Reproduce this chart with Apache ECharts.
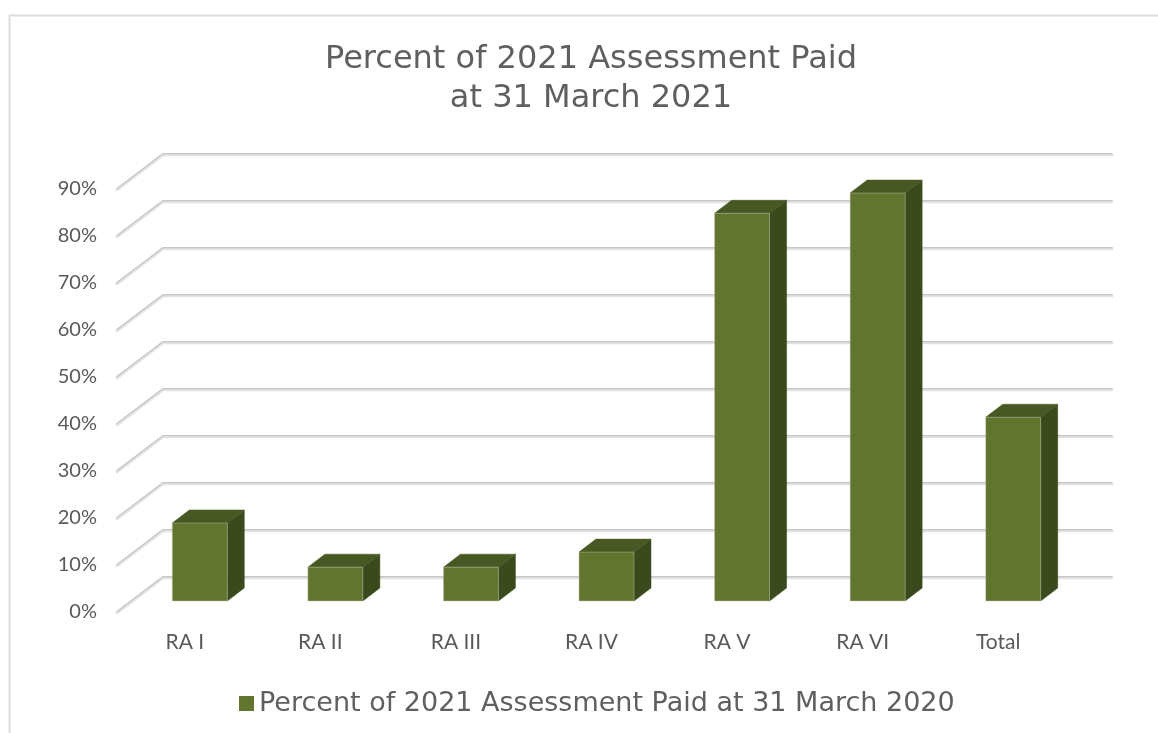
<!DOCTYPE html>
<html>
<head>
<meta charset="utf-8">
<style>html,body{margin:0;padding:0;background:#fff}#c{width:1158px;height:733px}</style>
<script src="https://cdn.jsdelivr.net/npm/echarts@6/dist/echarts.min.js"></script>
</head>
<body>
<div id="c"></div>
<script>
const categories = ['RA I','RA II','RA III','RA IV','RA V','RA VI','Total'];
const paid = [16.6, 7.2, 7.2, 10.4, 82.5, 86.8, 39.1];
const gridValues = [0,10,20,30,40,50,60,70,80,90];
const seriesName = 'Percent of 2021 Assessment Paid at 31 March 2020';
const titleText = 'Percent of 2021 Assessment Paid\nat 31 March 2021';

const wallDX = 46, wallDY = 35;      // floor depth of the 3-D plot
const barDX = 15, barDY = 11;        // front face of bar, set into the floor
const depthX = 17, depthY = 13;      // depth of a bar
const barWidth = 55;
const FRONT = '#61752f', TOP = '#475823', SIDE = '#3b4a1c', EDGE = 'rgba(190,195,180,0.45)';

function poly(points, fill, stroke) {
  return { type:'polygon', shape:{points}, style:{fill, stroke: stroke || fill, lineWidth: stroke ? 1 : 0.5} };
}

const chart = echarts.init(document.getElementById('c'), null, {renderer:'canvas'});
chart.setOption({
  animation:false,
  backgroundColor:'#ffffff',
  title:{
    text:titleText, left:586, top:35, textAlign:'center',
    textStyle:{fontFamily:'DejaVu Sans', fontSize:32, fontWeight:'normal', color:'#5f5f5f', lineHeight:39}
  },
  legend:{
    data:[{name:seriesName, icon:'rect'}], left:234, top:685, itemWidth:15, itemHeight:15, itemGap:7,
    textStyle:{fontFamily:'DejaVu Sans', fontSize:27, color:'#5f5f5f', padding:0},
    selectedMode:false
  },
  grid:{left:117, right:92, top:189, bottom:121},
  xAxis:{
    type:'category', data:categories,
    axisLine:{show:false}, axisTick:{show:false}, splitLine:{show:false},
    axisLabel:{margin:20, fontFamily:'Lato', fontSize:21, color:'#595959'}
  },
  yAxis:{
    type:'value', min:0, max:90, interval:10,
    axisLine:{show:false}, axisTick:{show:false}, splitLine:{show:false},
    axisLabel:{margin:20, fontFamily:'Lato', fontSize:20, color:'#595959', formatter:'{value}%'}
  },
  graphic:[
    {type:'line', shape:{x1:9,y1:15.5,x2:1158,y2:15.5}, style:{stroke:'#dedede',lineWidth:2}},
    {type:'line', shape:{x1:9.5,y1:15,x2:9.5,y2:733}, style:{stroke:'#dedede',lineWidth:2}}
  ],
  series:[
    {
      type:'custom', name:'grid', silent:true, z:1,
      data:gridValues.map(v=>[0,v]),
      renderItem(params, api){
        const y = api.coord([0, api.value(1)])[1];
        const cs = params.coordSys;
        const pts = [[cs.x, y],[cs.x+wallDX, y-wallDY],[cs.x+cs.width+wallDX, y-wallDY]];
        return {type:'group', children:[
          {type:'polyline', shape:{points:pts.map(p=>[p[0],p[1]+0.8])}, style:{fill:'none',stroke:'#e2e2e2',lineWidth:3,lineCap:'round'}},
          {type:'polyline', shape:{points:pts.map(p=>[p[0],p[1]-0.4])}, style:{fill:'none',stroke:'#c6c6c6',lineWidth:1.3,lineCap:'round'}}
        ]};
      }
    },
    {
      type:'custom', name:seriesName, z:2,
      itemStyle:{color:FRONT},
      data:paid.map((v,i)=>[i,v]),
      renderItem(params, api){
        const top = api.coord([api.value(0), api.value(1)]);
        const base = api.coord([api.value(0), 0]);
        const l = top[0] + barDX - barWidth/2, r = l + barWidth;
        const t = top[1] - barDY, b = base[1] - barDY;
        return {type:'group', children:[
          poly([[r,t],[r+depthX,t-depthY],[r+depthX,b-depthY],[r,b]], SIDE),
          poly([[l,t],[l+depthX,t-depthY],[r+depthX,t-depthY],[r,t]], TOP),
          poly([[l,t],[r,t],[r,b],[l,b]], FRONT, EDGE)
        ]};
      }
    }
  ]
});
</script>
</body>
</html>
